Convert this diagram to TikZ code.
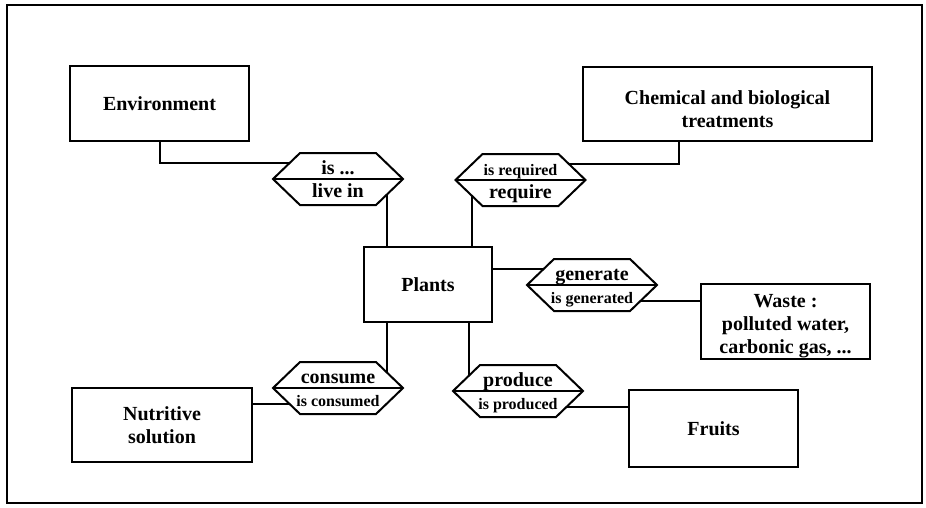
\documentclass[tikz,border=0pt]{standalone}
\usepackage{fontspec}
\setmainfont{Liberation Serif}
\usetikzlibrary{calc}

% text sizes: large labels and the smaller passive-voice labels
\newcommand\labA{\fontsize{20}{23}\selectfont\bfseries}
\newcommand\labB{\fontsize{16}{19}\selectfont\bfseries}

\tikzset{
  entity/.style={draw, line width=2pt, inner sep=0pt, outer sep=0pt,
                 align=center, font=\labA},
  entitytext/.style={align=center, font=\labA, inner sep=0pt},
  hexbody/.style={minimum width=130pt, minimum height=52pt,
                  inner sep=0pt, outer sep=0pt},
  hexline/.style={line width=2pt, line join=miter},
  link/.style={line width=2pt},
  frame/.style={line width=1.5pt},
}

% relationship hexagon: name, x, y, upper label, lower label
\newcommand\relhex[5]{%
  \node[hexbody] (#1) at (#2,#3) {};
  \draw[hexline] (#1.west) -- ($(#1.north west)+(27,0)$)
    -- ($(#1.north east)+(-27,0)$) -- (#1.east)
    -- ($(#1.south east)+(-27,0)$) -- ($(#1.south west)+(27,0)$) -- cycle;
  \draw[hexline] (#1.west) -- (#1.east);
  \node[anchor=base, inner sep=0pt] (#1-a) at ($(#1)+(0,-5)$) {#4};
  \node[anchor=base, inner sep=0pt] (#1-b) at ($(#1)+(0,18)$) {#5};
  \coordinate (#1-ul) at ($(#1.west)!0.6!($(#1.north west)+(27,0)$)$);
  \coordinate (#1-ur) at ($(#1.east)!0.6!($(#1.north east)+(-27,0)$)$);
  \coordinate (#1-ll) at ($(#1.west)!0.6!($(#1.south west)+(27,0)$)$);
  \coordinate (#1-lr) at ($(#1.east)!0.6!($(#1.south east)+(-27,0)$)$);
}

\begin{document}
\begin{tikzpicture}[x=1pt, y=-1pt]
  \useasboundingbox (0,0) rectangle (926,507);
  \fill[white] (0,0) rectangle (926,507);

  % outer frame
  \draw[frame] (7,5) rectangle (922,503);
  \draw[line width=2.5pt] (7,5) -- (922,5);

  % entities
  \node[entity, minimum width=179pt, minimum height=75pt] (env) at (159.5,103.5) {Environment};
  \node[entity, minimum width=289pt, minimum height=74pt] (chem) at (727.5,104) {};
  \node[entitytext] (chemtext) at ([yshift=-5pt]chem.center)
    {Chemical and biological\\treatments};
  \node[entity, minimum width=128pt, minimum height=75pt] (plants) at (428,284.5) {Plants};
  \node[entity, minimum width=169pt, minimum height=75pt] (waste) at (785.5,321.5) {};
  \node[entitytext] (wastetext) at ([yshift=-5pt]waste.center)
    {Waste :\\polluted water,\\carbonic gas, ...};
  \node[entity, minimum width=180pt, minimum height=74pt] (nutr) at (162,425)
    {Nutritive\\solution};
  \node[entity, minimum width=169pt, minimum height=77pt] (fruits) at (713.5,428.5) {Fruits};

  % relationships
  \relhex{live}{338}{179}{\labA is ...}{\labA live in}
  \relhex{req}{520.5}{180}{\labB is required}{\labA require}
  \relhex{gen}{592}{285}{\labA generate}{\labB is generated}
  \relhex{cons}{338}{388}{\labA consume}{\labB is consumed}
  \relhex{prod}{518}{391}{\labA produce}{\labB is produced}

  % connectors
  \draw[link] (env.south) |- (live-ul);
  \draw[link] (live-lr) -- (live-lr |- plants.north);
  \draw[link] (req-ur) -| ([xshift=96pt]chem.south west);
  \draw[link] (req-ll) -- (req-ll |- plants.north);
  \draw[link] (gen-ul) -- (gen-ul -| plants.east);
  \draw[link] (gen-lr) -- (gen-lr -| waste.west);
  \draw[link] (cons-ur) -- (cons-ur |- plants.south);
  \draw[link] (cons-ll) -- (cons-ll -| nutr.east);
  \draw[link] (prod-ul) -- (prod-ul |- plants.south);
  \draw[link] (prod-lr) -- (prod-lr -| fruits.west);
\end{tikzpicture}
\end{document}
